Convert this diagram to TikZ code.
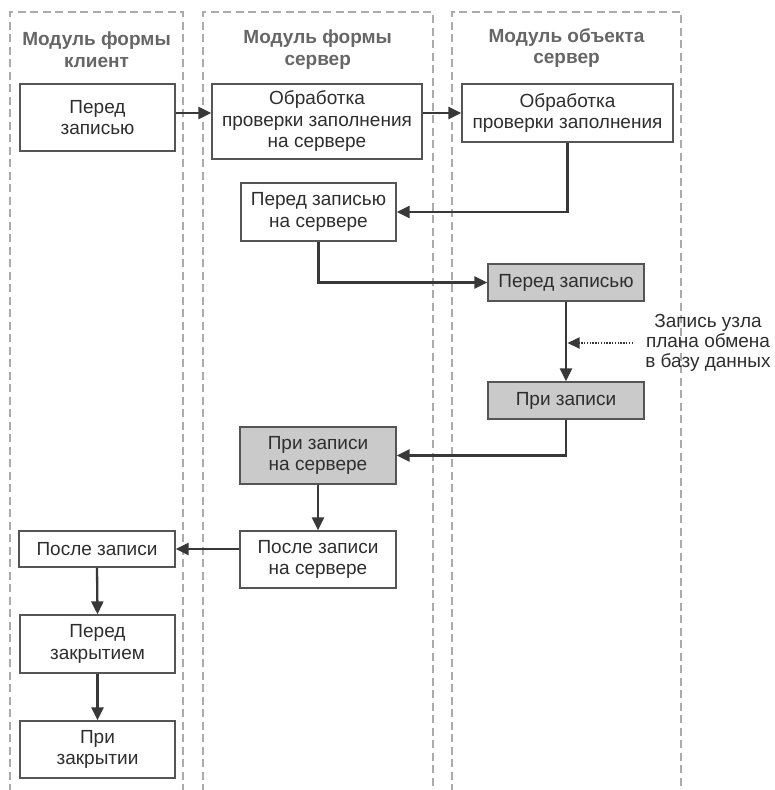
\documentclass[tikz,border=0pt]{standalone}
\usepackage{fontspec}
\setmainfont{Liberation Sans}
\usetikzlibrary{arrows.meta,calc}
\definecolor{lanegray}{HTML}{ABABAB}
\definecolor{headgray}{HTML}{666666}
\definecolor{boxline}{HTML}{555555}
\definecolor{txt}{HTML}{2E2E2E}
\definecolor{fillgray}{HTML}{CACACA}
\definecolor{arrowc}{HTML}{383838}
\tikzset{
  lane/.style={draw=lanegray, line width=2pt, dash pattern=on 8pt off 4.5pt},
  header/.style={font=\fontsize{19}{21.5}\selectfont\bfseries, text=headgray, align=center},
  stepbox/.style={draw=boxline, line width=1.3pt, fill=white, font=\fontsize{19}{21.5}\selectfont, text=txt, align=center, inner sep=0pt},
  graybox/.style={stepbox, fill=fillgray},
  lbl/.style={font=\fontsize{19}{20}\selectfont, text=txt, align=center},
  arr/.style={draw=arrowc, line width=2.3pt, -{Triangle[length=13pt,width=12pt]}},
  dotarr/.style={draw=arrowc, line width=2pt, dash pattern=on 1.4pt off 1.4pt, -{Triangle[length=12pt,width=11pt]}}
}
\begin{document}
\begin{tikzpicture}[x=1pt,y=-1pt]
\useasboundingbox (0,0) rectangle (775,790);
% lanes
\draw[lane] (10,792) -- (10,12) -- (183,12) -- (183,792);
\draw[lane] (203,792) -- (203,12) -- (432.5,12) -- (432.5,792);
\draw[lane] (451.7,792) -- (451.7,12) -- (681,12) -- (681,792);
% headers
\node[header] (h1) at (96.5,49.5) {Модуль формы\\клиент};
\node[header] (h2) at (317.7,49.5) {Модуль формы\\сервер};
\node[header] (h3) at (566.5,48) {Модуль объекта\\сервер};
% boxes
\node[stepbox, minimum width=155pt, minimum height=67pt] (A) at (97.5,117.5) {Перед\\записью};
\node[stepbox, minimum width=210pt, minimum height=75pt] (B) at (317,121.5) {Обработка\\проверки заполнения\\на сервере};
\node[stepbox, minimum width=211pt, minimum height=58pt] (C) at (567.5,113) {Обработка\\проверки заполнения};
\node[stepbox, minimum width=155pt, minimum height=58pt] (D) at (318.5,212) {Перед записью\\на сервере};
\node[graybox, minimum width=156pt, minimum height=37pt] (E) at (566,282.5) {Перед записью};
\node[graybox, minimum width=156pt, minimum height=37pt] (F) at (566,400.5) {При записи};
\node[graybox, minimum width=156pt, minimum height=57pt] (G) at (318,455.5) {При записи\\на сервере};
\node[stepbox, minimum width=156pt, minimum height=57pt] (H) at (318,559.5) {После записи\\на сервере};
\node[stepbox, minimum width=156pt, minimum height=36pt] (I) at (97,549) {После записи};
\node[stepbox, minimum width=155pt, minimum height=58pt] (J) at (97.5,644) {Перед\\закрытием};
\node[stepbox, minimum width=155pt, minimum height=57pt] (K) at (97.5,749.5) {При\\закрытии};
% label
\node[lbl] (L) at (708,343) {Запись узла\\плана обмена\\в базу данных};
% connectors
\draw[arr] (A.east |- C.center) -- (B.west |- C.center);
\draw[arr] (B.east |- C.center) -- (C.west);
\draw[arr] (C.south) |- (D.east);
\draw[arr] (D.south) |- (E.west);
\draw[arr] (E.south) -- (F.north);
\draw[arr] (F.south) |- (G.east);
\draw[arr] (G.south) -- (H.north);
\draw[arr] (H.west |- I.center) -- (I.east);
\draw[arr] (I.south) -- (J.north);
\draw[arr] (J.south) -- (K.north);
\coordinate (ds) at (633,343);
\coordinate (dt) at ($(E.south |- ds)+(1.5,0)$);
\draw[dotarr] (ds) -- (dt);
\end{tikzpicture}
\end{document}
